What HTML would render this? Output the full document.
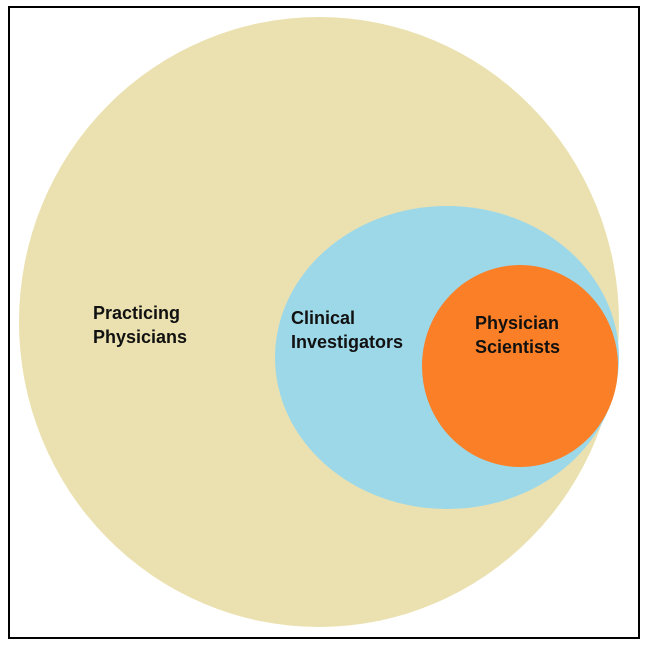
<!DOCTYPE html>
<html><head><style>
html,body{margin:0;padding:0;background:#fff;width:646px;height:650px;overflow:hidden}
svg{display:block}
text{font-family:"Liberation Sans",sans-serif;font-weight:bold;font-size:18px;fill:#111}
</style></head><body>
<svg width="646" height="650" viewBox="0 0 646 650">
<rect x="9" y="7" width="630" height="631" fill="#fff" stroke="#000" stroke-width="2"/>
<ellipse cx="319" cy="322" rx="300" ry="305" fill="#ebe1b0"/>
<ellipse cx="447" cy="357.5" rx="172" ry="151.5" fill="#9dd8e8"/>
<ellipse cx="520" cy="366" rx="98" ry="101" fill="#fa7f26"/>
<text x="93" y="319">Practicing</text>
<text x="93" y="343">Physicians</text>
<text x="291" y="324">Clinical</text>
<text x="291" y="348">Investigators</text>
<text x="475" y="329">Physician</text>
<text x="475" y="353">Scientists</text>
</svg>
</body></html>
